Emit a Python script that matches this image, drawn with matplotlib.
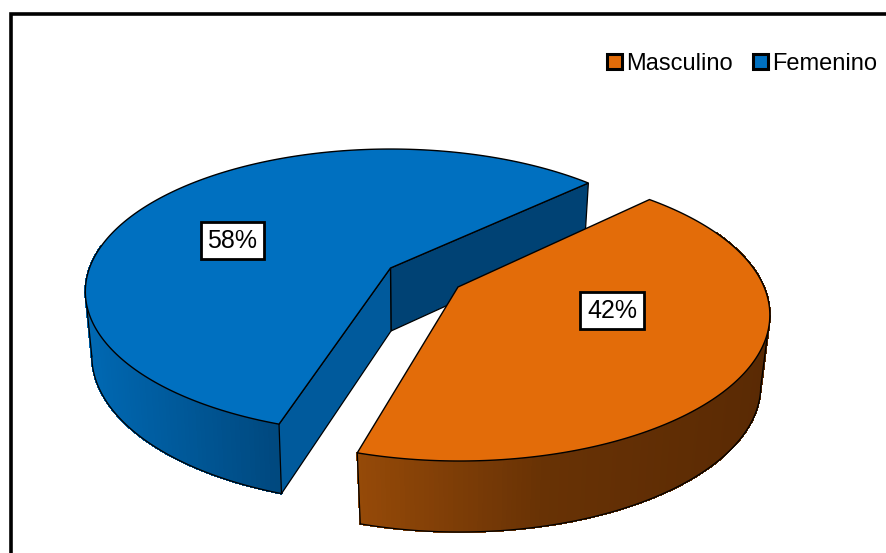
import numpy as np
import matplotlib
matplotlib.use("Agg")
import matplotlib.pyplot as plt
from matplotlib.patches import Patch, Polygon, Rectangle
from matplotlib.collections import PolyCollection

plt.rcParams["font.family"] = ["Liberation Sans", "DejaVu Sans"]

labels = ["Masculino", "Femenino"]
values = [42, 58]
colors = ["#E36C09", "#0070C0"]

# pie layout, in pixels of the picture
start_angle = 43.0
turn_mas = 2.2
top_fem = dict(cx=390.5, cy=268, A=301, B=138.6, k=0.165, skew=0)
bot_fem = dict(cx=391, cy=331, A=295, B=144, k=0.167, skew=0)
top_mas = dict(cx=459.5, cy=288, A=305, B=141, k=0.185, skew=0)
bot_mas = dict(cx=459.5, cy=359, A=296, B=141, k=0.185, skew=0)
apex_mas = (458, 287)
label_pos = {"Masculino": (612, 310.5), "Femenino": (232.5, 240.5)}


def project(theta, g):
    x = np.cos(np.radians(theta))
    y = np.sin(np.radians(theta))
    d = 1 + g["k"] * y
    v = g["B"] * y / d
    return g["cx"] + g["A"] * x / d + g["skew"] * v, g["cy"] - v


def outer_wall(ax, theta, top, bot, xs, shades, z, left_side):
    tx, ty = project(theta, top)
    bx, by = project(theta, bot)
    quads = []
    cols = []
    for i in range(len(theta) - 1):
        quads.append([(tx[i], ty[i]), (tx[i + 1], ty[i + 1]), (bx[i + 1], by[i + 1]), (bx[i], by[i])])
        xm = (tx[i] + tx[i + 1]) / 2
        cols.append([np.interp(xm, xs, [s[c] for s in shades]) / 255 for c in range(3)])
    ax.add_collection(PolyCollection(quads, facecolors=cols, edgecolors="face", linewidths=0.8,
                                     antialiased=False, zorder=z))
    # outline only the visible part, from silhouette to corner
    if left_side:
        i = bx.argmin()
        ax.plot(bx[i:], by[i:], color="black", lw=0.9, zorder=z + 0.1)
        ax.plot([tx.min(), bx[i]], [ty[tx.argmin()], by[i]], color="black", lw=0.9, zorder=z + 0.1)
    else:
        i = bx.argmax()
        ax.plot(bx[:i + 1], by[:i + 1], color="black", lw=0.9, zorder=z + 0.1)
        ax.plot([tx.max(), bx[i]], [ty[tx.argmax()], by[i]], color="black", lw=0.9, zorder=z + 0.1)
        ax.plot([tx[0], bx[0]], [ty[0], by[0]], color="black", lw=0.9, zorder=z + 0.1)


def top_face(ax, theta, g, color, apex, z):
    x, y = project(theta, g)
    pts = np.column_stack([np.r_[apex[0], x], np.r_[apex[1], y]])
    ax.add_patch(Polygon(pts, closed=True, fc=color, ec="black", lw=1.0, joinstyle="miter", zorder=z))


fig = plt.figure(figsize=(8.86, 5.53), dpi=100)
ax = fig.add_axes([0, 0, 1, 1])
ax.set_xlim(0, 886)
ax.set_ylim(553, 0)
ax.axis("off")

# chart frame, runs off the right and bottom of the picture
ax.add_patch(Rectangle((11, 13.5), 900, 600, fc="white", ec="black", lw=2.6, zorder=0.5))

split = start_angle + values[1] * 3.6
end = start_angle + 360

# --- Femenino (behind) ---
theta_f = np.linspace(start_angle, split, 240)
vis_f = theta_f[theta_f >= 170]
outer_wall(ax, vis_f, top_fem, bot_fem, [90, 280], [(0, 104, 178), (0, 72, 126)], 1, True)

c0 = project(np.array([start_angle]), top_fem)
c1 = project(np.array([start_angle]), bot_fem)
n0 = project(np.array([split]), top_fem)
n1 = project(np.array([split]), bot_fem)
ax.add_patch(Polygon([(top_fem["cx"], top_fem["cy"]), (c0[0][0], c0[1][0]), (c1[0][0], c1[1][0]),
                      (bot_fem["cx"], bot_fem["cy"])], fc="#004274", ec="black", lw=0.9, zorder=2))
ax.add_patch(Polygon([(top_fem["cx"], top_fem["cy"]), (n0[0][0], n0[1][0]), (n1[0][0], n1[1][0]),
                      (bot_fem["cx"], bot_fem["cy"])], fc="#005A9C", ec="black", lw=0.9, zorder=2))
top_face(ax, theta_f, top_fem, colors[1], (top_fem["cx"], top_fem["cy"]), 3)

# --- Masculino (in front) ---
theta_m = np.linspace(split, end, 200) + turn_mas
vis_m = theta_m[theta_m <= 385]
outer_wall(ax, vis_m, top_mas, bot_mas, [356, 545, 770], [(150, 74, 8), (104, 50, 5), (90, 42, 4)], 4, False)
top_face(ax, theta_m, top_mas, colors[0], apex_mas, 5)

# data labels
for name, val in zip(labels, values):
    x, y = label_pos[name]
    ax.text(x, y, f"{val}%", fontsize=18, ha="center", va="center", color="black", zorder=6,
            bbox=dict(boxstyle="square,pad=0.27", fc="white", ec="black", lw=2.0))

handles = [Patch(fc=c, ec="black", lw=2.2, label=l) for c, l in zip(colors, labels)]
ax.legend(handles=handles, ncol=2, frameon=False, fontsize=17, loc="upper left",
          bbox_to_anchor=(607 / 886, 1 - 53 / 553), borderpad=0, borderaxespad=0,
          handlelength=0.62, handleheight=0.62, handletextpad=0.2, columnspacing=0.85)

fig.savefig("out.png", dpi=100)
